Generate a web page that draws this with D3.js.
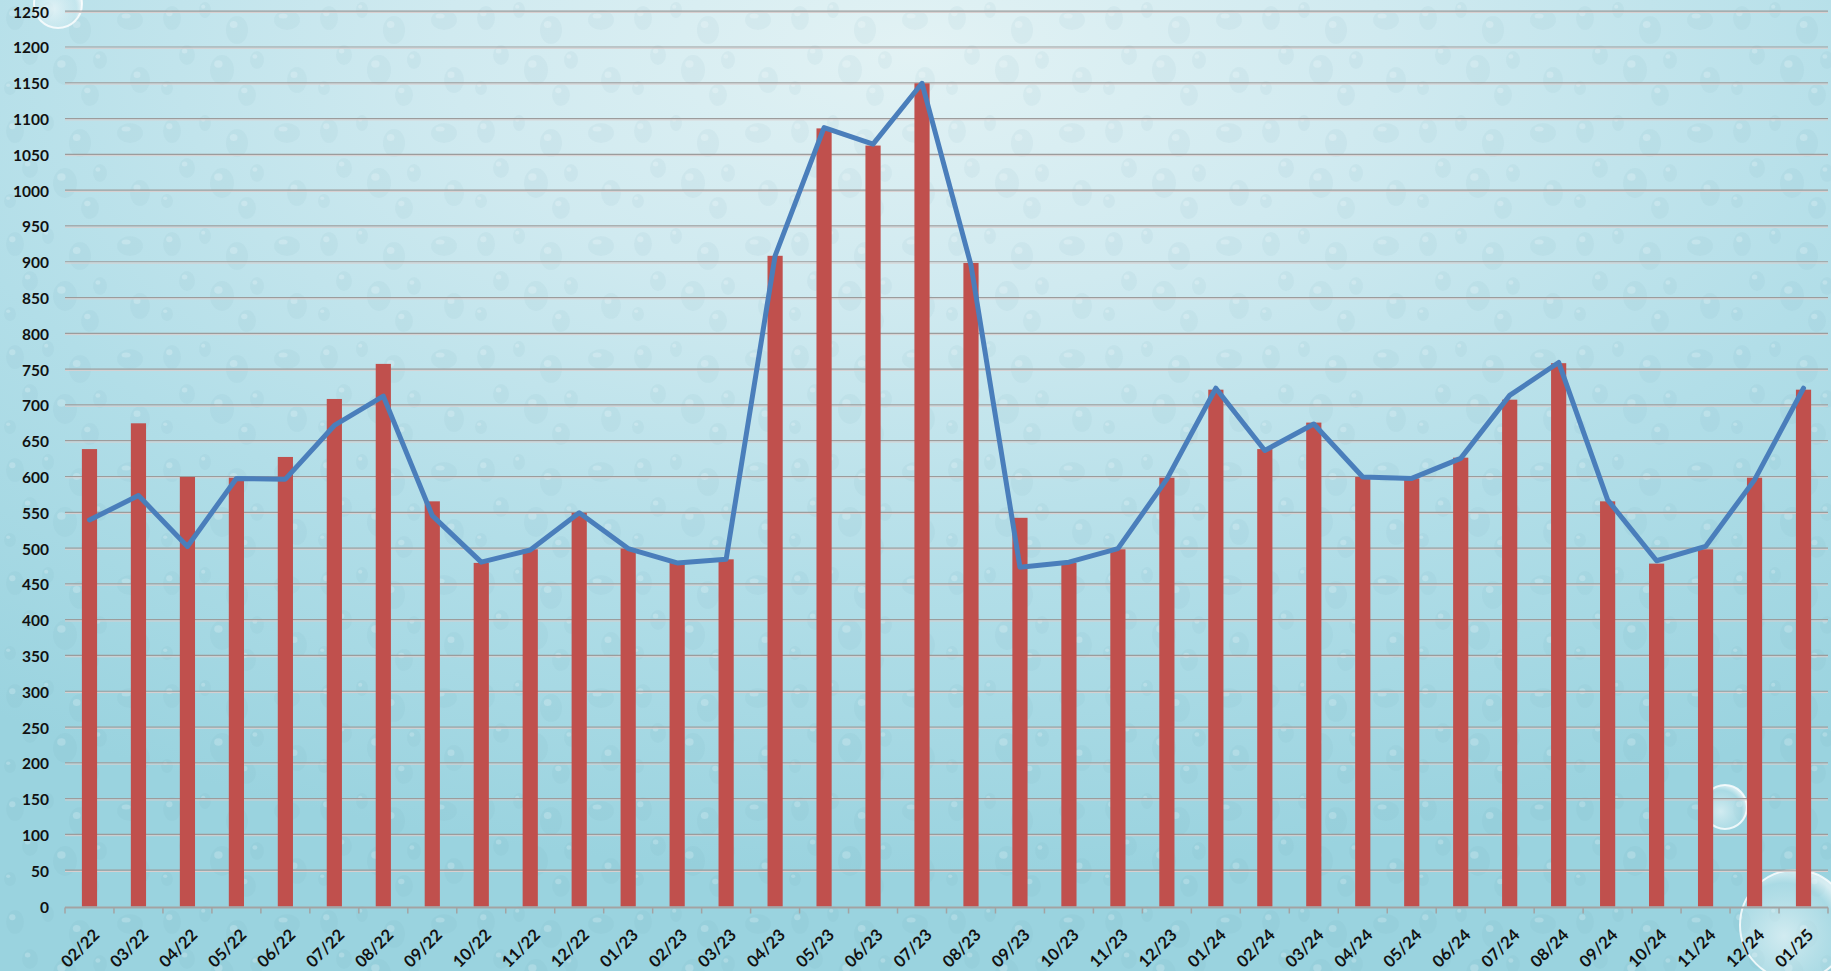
<!DOCTYPE html>
<html>
<head>
<meta charset="utf-8">
<script src="https://cdn.jsdelivr.net/npm/d3@7"></script>
<style>
  html, body { margin: 0; padding: 0; background: #b9dfe7; overflow: hidden; }
  svg { display: block; }
  text { font-family: Lato, "Open Sans", "Liberation Sans", sans-serif; font-weight: 700; fill: #111; }
</style>
</head>
<body>
<svg id="chart" width="1831" height="971"></svg>
<script>
const categories = ["02/22","03/22","04/22","05/22","06/22","07/22","08/22","09/22","10/22","11/22","12/22",
  "01/23","02/23","03/23","04/23","05/23","06/23","07/23","08/23","09/23","10/23","11/23","12/23",
  "01/24","02/24","03/24","04/24","05/24","06/24","07/24","08/24","09/24","10/24","11/24","12/24","01/25"];
const barValues = [639,675,600,599,628,709,758,566,480,499,550,
  500,480,485,909,1087,1063,1150,899,543,480,499,599,
  722,639,676,600,598,627,708,759,566,479,499,599,722];
const lineValues = [540,574,503,598,597,672,713,546,481,498,550,
  500,480,485,909,1088,1065,1150,896,474,481,500,597,
  724,637,674,600,598,626,714,760,568,483,503,596,724];
const yTickValues = [0,50,100,150,200,250,300,350,400,450,500,550,600,650,700,750,800,850,900,950,1000,1050,1100,1150,1200,1250];

const W = 1831, H = 971;
const svg = d3.select("#chart");
const defs = svg.append("defs");

// background gradient
const bg = defs.append("radialGradient").attr("id","bg")
  .attr("cx","0.5").attr("cy","0.05").attr("r","0.85").attr("fx","0.5").attr("fy","0.05");
bg.append("stop").attr("offset","0").attr("stop-color","#e2f2f4");
bg.append("stop").attr("offset","0.3").attr("stop-color","#d0eaf0");
bg.append("stop").attr("offset","0.65").attr("stop-color","#b2dee8");
bg.append("stop").attr("offset","1").attr("stop-color","#9ad3df");
svg.append("rect").attr("width",W).attr("height",H).attr("fill","url(#bg)");

// droplet texture (fixed pattern)
const drops = [[15,18,9,12],[48,10,6,8],[80,30,11,14],[30,55,8,10],[65,70,12,15],[100,60,7,9],[10,88,6,7],[90,95,9,11],[130,20,13,10],[140,80,10,13]];
const pat = defs.append("pattern").attr("id","drops").attr("patternUnits","userSpaceOnUse")
  .attr("width",157).attr("height",113);
drops.forEach(d => {
  pat.append("ellipse").attr("cx",d[0]).attr("cy",d[1]).attr("rx",d[2]).attr("ry",d[3])
    .attr("fill","#5f9fb0").attr("opacity",0.07);
  pat.append("ellipse").attr("cx",d[0]-d[2]*0.3).attr("cy",d[1]-d[3]*0.4).attr("rx",d[2]*0.35).attr("ry",d[3]*0.25)
    .attr("fill","#ffffff").attr("opacity",0.2);
});
svg.append("rect").attr("width",W).attr("height",H).attr("fill","url(#drops)");

// bubbles
const bubGrad = defs.append("radialGradient").attr("id","bub").attr("cx","0.4").attr("cy","0.6").attr("r","0.6");
bubGrad.append("stop").attr("offset","0").attr("stop-color","#ffffff").attr("stop-opacity",0.55);
bubGrad.append("stop").attr("offset","0.8").attr("stop-color","#e8f6f8").attr("stop-opacity",0.2);
bubGrad.append("stop").attr("offset","1").attr("stop-color","#ffffff").attr("stop-opacity",0.6);
const bubbles = [[58,4,24],[1725,807,22],[1795,925,55]];
svg.selectAll("circle.bub").data(bubbles).join("circle").attr("class","bub")
  .attr("cx",d=>d[0]).attr("cy",d=>d[1]).attr("r",d=>d[2])
  .attr("fill","url(#bub)").attr("stroke","#ffffff").attr("stroke-opacity",0.8).attr("stroke-width",2);

// scales
const x = d3.scaleBand().domain(categories).range([65, 1828]).paddingInner(0).paddingOuter(0);
const y = d3.scaleLinear().domain([0, 1250]).range([906.5, 11.7]);

// gridlines
const grid = svg.append("g");
yTickValues.filter(v => v > 0).forEach(v => {
  grid.append("line").attr("x1",65).attr("x2",1828).attr("y1",y(v)-0.5).attr("y2",y(v)-0.5)
    .attr("stroke","#9c9c9c").attr("stroke-width",1.2);
  grid.append("line").attr("x1",65).attr("x2",1828).attr("y1",y(v)+0.8).attr("y2",y(v)+0.8)
    .attr("stroke","#d9cfcf").attr("stroke-width",1);
});

// y labels
svg.append("g").selectAll("text").data(yTickValues).join("text")
  .attr("x",49).attr("y",d=>y(d)).attr("text-anchor","end").attr("dominant-baseline","central")
  .attr("font-size","15.5px").text(d=>d);

// bars
const bw = x.bandwidth()*0.31;
svg.append("g").selectAll("rect").data(barValues).join("rect")
  .attr("x",(d,i)=>x(categories[i]) + x.bandwidth()/2 - bw/2)
  .attr("y",d=>y(d)).attr("width",bw).attr("height",d=>y(0)-y(d))
  .attr("fill","#c0504d");

// x axis
const axisG = svg.append("g");
axisG.append("line").attr("x1",65).attr("x2",1828).attr("y1",y(0)+1).attr("y2",y(0)+1)
  .attr("stroke","#a3a3a3").attr("stroke-width",2);
const edges = categories.map(c => x(c)).concat([x.range()[1]]);
axisG.selectAll("line.tk").data(edges).join("line").attr("class","tk")
  .attr("x1",d=>d).attr("x2",d=>d).attr("y1",y(0)+1).attr("y2",y(0)+7)
  .attr("stroke","#a3a3a3").attr("stroke-width",1.5);

axisG.selectAll("text").data(categories).join("text")
  .attr("transform",c=>`translate(${x(c)+x.bandwidth()/2+7},932) rotate(-45)`)
  .attr("text-anchor","end").attr("dy","0.35em").attr("font-size","16.5px").text(c=>c);

// line
const line = d3.line().x((d,i)=>x(categories[i]) + x.bandwidth()/2).y(d=>y(d));
svg.append("path").datum(lineValues).attr("d",line)
  .attr("fill","none").attr("stroke","#4a7ebb").attr("stroke-width",5)
  .attr("stroke-linejoin","round").attr("stroke-linecap","round");
</script>
</body>
</html>
